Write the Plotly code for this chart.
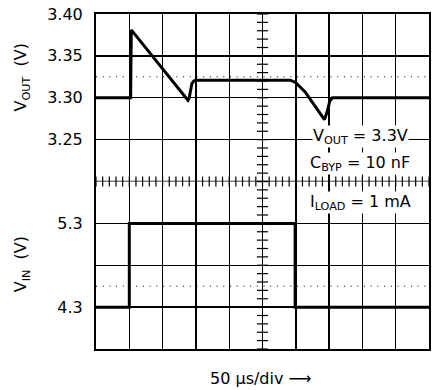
import numpy as np
import plotly.graph_objects as go
from plotly.subplots import make_subplots

# time axis in microseconds, 50 us/div, 10 divisions
t_range = [0, 500]

# output voltage trace (V)
t_out = [0, 52, 53, 138, 140, 142, 144, 147, 150, 292, 300, 314, 334, 343, 347, 351, 355, 500]
v_out = [3.300, 3.300, 3.381, 3.297, 3.300, 3.310, 3.317, 3.320, 3.321, 3.321,
         3.318, 3.307, 3.284, 3.274, 3.283, 3.296, 3.300, 3.300]

# input voltage step (V)
t_in = [0, 50, 50, 299, 299, 500]
v_in = [4.3, 4.3, 5.3, 5.3, 4.3, 4.3]

# dotted reference levels
dot_out = 3.325
dot_in = 4.55

vout_ticks = [3.20, 3.25, 3.30, 3.35, 3.40]
vout_labels = ["", "3.25", "3.30", "3.35", "3.40"]
vin_ticks = [3.8, 4.3, 4.8, 5.3, 5.8]
vin_labels = ["", "4.3", "", "5.3", ""]

FONT = "DejaVu Sans"

fig = make_subplots(rows=2, cols=1, shared_xaxes=True, vertical_spacing=0)

# dotted levels
fig.add_trace(go.Scatter(x=t_range, y=[dot_out, dot_out], mode="lines",
                         line=dict(color="black", width=1, dash="1px,5.7px")), row=1, col=1)
fig.add_trace(go.Scatter(x=t_range, y=[dot_in, dot_in], mode="lines",
                         line=dict(color="black", width=1, dash="1px,5.7px")), row=2, col=1)

# centre cross with small ticks (scope graticule)
hx = list(range(0, 501, 10))
fig.add_trace(go.Scatter(x=hx, y=[vout_ticks[0]] * len(hx), mode="lines+markers", cliponaxis=False,
                         line=dict(color="black", width=1.3),
                         marker=dict(symbol="line-ns", size=7, line=dict(width=1.2, color="black"))),
              row=1, col=1)
vy_top = np.round(np.arange(3.20, 3.4001, 0.01), 3)
vy_bot = np.round(np.arange(3.8, 5.8001, 0.1), 2)
fig.add_trace(go.Scatter(x=[250] * len(vy_top), y=vy_top, mode="markers", cliponaxis=False,
                         marker=dict(symbol="line-ew", size=8, line=dict(width=1.2, color="black"))),
              row=1, col=1)
fig.add_trace(go.Scatter(x=[250] * len(vy_bot), y=vy_bot, mode="markers", cliponaxis=False,
                         marker=dict(symbol="line-ew", size=8, line=dict(width=1.2, color="black"))),
              row=2, col=1)

# waveforms
fig.add_trace(go.Scatter(x=t_out, y=v_out, mode="lines",
                         line=dict(color="black", width=3)), row=1, col=1)
fig.add_trace(go.Scatter(x=t_in, y=v_in, mode="lines",
                         line=dict(color="black", width=3)), row=2, col=1)

xcommon = dict(range=t_range, tickvals=list(range(0, 501, 50)), showticklabels=False,
               showgrid=True, gridcolor="black", gridwidth=1.4, zeroline=False,
               showline=True, linecolor="black", linewidth=2, ticks="")
fig.update_xaxes(side="top", row=1, col=1, **xcommon)
fig.update_xaxes(side="bottom", row=2, col=1, **xcommon)

ycommon = dict(showgrid=True, gridcolor="black", gridwidth=1.4, zeroline=False,
               showline=True, linecolor="black", linewidth=2, mirror=True, ticks="",
               ticklabelstandoff=8, tickfont=dict(family=FONT, size=16, color="black"))
fig.update_yaxes(range=[3.20, 3.40], tickvals=vout_ticks, ticktext=vout_labels,
                 row=1, col=1, **ycommon)
fig.update_yaxes(range=[3.8, 5.8], tickvals=vin_ticks, ticktext=vin_labels,
                 row=2, col=1, **ycommon)

ann_font = dict(family=FONT, size=16, color="black")
notes = [
    ("V<sub>OUT</sub> = 3.3V", 0.794, 0.633),
    ("C<sub>BYP</sub> = 10 nF", 0.794, 0.555),
    ("I<sub>LOAD</sub> = 1 mA", 0.794, 0.438),
]
for text, x, y in notes:
    fig.add_annotation(text=text, xref="paper", yref="paper", x=x, y=y,
                       xanchor="center", yanchor="middle", showarrow=False,
                       bgcolor="white", borderpad=0, font=ann_font)

fig.add_annotation(text="V<sub>OUT</sub>  (V)", textangle=-90, xref="paper", yref="paper",
                   x=-0.221, y=0.812, xanchor="center", yanchor="middle",
                   showarrow=False, font=ann_font)
fig.add_annotation(text="V<sub>IN</sub>  (V)", textangle=-90, xref="paper", yref="paper",
                   x=-0.221, y=0.254, xanchor="center", yanchor="middle",
                   showarrow=False, font=ann_font)
fig.add_annotation(text="50 μs/div ⟶", xref="paper", yref="paper",
                   x=0.496, y=-0.087, xanchor="center", yanchor="middle",
                   showarrow=False, font=ann_font)

fig.update_layout(
    width=432, height=390,
    margin=dict(l=96, r=1, t=14, b=41),
    plot_bgcolor="white", paper_bgcolor="white",
    showlegend=False, hovermode=False,
    font=dict(family=FONT, size=16, color="black"),
)

fig.write_html("out.html", config={"staticPlot": True, "displayModeBar": False},
               post_script="document.body.style.margin = '0';")
